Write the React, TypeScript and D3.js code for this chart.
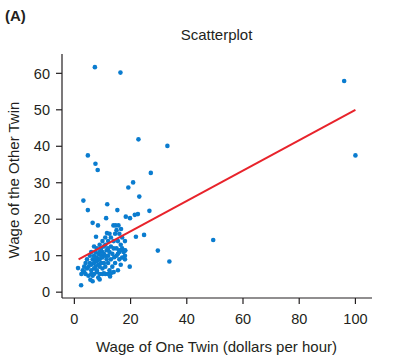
import React from 'react';
import * as d3 from 'd3';

// wage of one twin (x) and of the other twin (y), dollars per hour
const twinOne = [
  7.3, 16.4, 96, 100, 22.8, 33.1, 4.8, 7.5, 8.3, 27.2, 20.9, 19.2, 23.1, 3.2, 11.7, 4.8,
  26.7, 15.3, 22.6, 21.5, 18.3, 19.8, 11.3, 6.5, 8.4, 13.9, 14.7, 15.7, 16.6, 11.6, 24.8,
  21.9, 7.7, 29.7, 33.8, 19.7, 2.4, 5.7, 1.3, 12.7, 17, 18.1, 14.2, 49.4,
  3, 3.5, 4, 4.5, 5, 5, 5.5, 6, 6, 6, 6.5, 6.5, 7, 7, 7, 7, 7.5, 7.5, 7.5, 8, 8, 8, 8, 8,
  8.5, 8.5, 9, 9, 9, 9, 9, 9.5, 9.5, 9.5, 10, 10, 10, 10, 10, 10.5, 10.5, 10.5, 11, 11, 11,
  11, 11, 11.5, 11.5, 12, 12, 12, 12, 12, 12.5, 12.5, 12.5, 13, 13, 13, 13.5, 13.5, 14, 14,
  14, 14.5, 14.5, 15, 15, 15, 15.5, 15.5, 16, 16, 16, 16.5, 16.5, 17, 17.5, 18, 18, 6.5, 4,
  3.5, 2.5, 9, 8.5, 5.5, 6, 7, 4.5, 16, 17, 18, 15.5, 17, 18, 13, 10.5,
];
const twinOther = [
  61.7, 60.2, 57.9, 37.5, 41.9, 40.1, 37.5, 35.2, 33.5, 32.7, 30.1, 28.7, 26.2, 25.1, 24.1,
  22.5, 22.3, 22.5, 21.4, 21.2, 20.7, 20.3, 20.3, 19, 18.3, 18.3, 18.3, 18.3, 17.3, 16.2,
  15.7, 15.2, 15.2, 11.4, 8.4, 7, 1.9, 3.4, 6.6, 4.3, 11.6, 11.4, 9.6, 14.3,
  6, 5.5, 5, 6.5, 4.5, 7, 8, 5, 6, 7.5, 9, 4.5, 5, 6.5, 8, 10, 7, 9, 11, 5.5, 6, 8.5, 9.5, 12,
  7.5, 10.5, 5, 7, 9, 11, 13, 8, 10, 12, 5, 6.5, 9.5, 11, 14, 8, 10.5, 12.5, 5, 7, 10,
  13, 15, 9, 11.5, 5, 8, 10, 12, 14, 6, 11, 16, 9, 12.5, 15, 7, 10.5, 5.5, 12,
  14, 8, 16, 10, 12, 17, 6, 14, 9, 11, 16, 7.5, 13, 15, 11, 9, 14, 3, 8,
  7, 5, 3.5, 4, 10, 11, 12.5, 9, 11.5, 12, 11.5, 10.5, 9.5, 10, 5.2, 5.2,
];
const xTicks = [0, 20, 40, 60, 80, 100];
const yTicks = [0, 10, 20, 30, 40, 50, 60];
// fitted line end points
const fitX = [1.5, 100];
const fitY = [9.0, 50.0];

const App = () => {
  const width = 398;
  const height = 364;
  const left = 62;
  const right = 372;
  const top = 54;
  const bottom = 298;

  const xScale = d3.scaleLinear().domain([-4.4, 105.9]).range([left, right]);
  const yScale = d3.scaleLinear().domain([-1.6, 65.3]).range([bottom, top]);

  const points = twinOne.map((x, i) => ({ x, y: twinOther[i] }));
  const line = d3.line<number>()
    .x(d => xScale(fitX[d]))
    .y(d => yScale(fitY[d]));

  const font = '"Liberation Sans", Arial, Helvetica, sans-serif';
  const ink = '#231f20';

  return (
    <svg width={width} height={height} style={{ position: 'absolute', left: 0, top: 0 }} fontFamily={font}>
      <rect width={width} height={height} fill='#fff' />
      <text x={5} y={21} fontSize={15} fontWeight='bold' fill={ink}>(A)</text>
      <text x={216.5} y={40} fontSize={15} textAnchor='middle' fill={ink}>Scatterplot</text>

      {points.map((d, i) =>
        <circle key={`pt-${i}`} cx={xScale(d.x)} cy={yScale(d.y)} r={2.3} fill='#0a7ccf' />
      )}
      <path d={line([0, 1]) || ''} stroke='#e8232b' strokeWidth={2} fill='none' />

      <line x1={left} x2={left} y1={top} y2={bottom} stroke={ink} strokeWidth={1.2} />
      <line x1={left} x2={right} y1={bottom} y2={bottom} stroke={ink} strokeWidth={1.2} />
      {yTicks.map(t =>
        <g key={`y-${t}`}>
          <line x1={left - 6} x2={left} y1={yScale(t)} y2={yScale(t)} stroke={ink} strokeWidth={1.2} />
          <text x={50} y={yScale(t)} dy='0.36em' textAnchor='end' fontSize={14.5} fill={ink}>{t}</text>
        </g>
      )}
      {xTicks.map(t =>
        <g key={`x-${t}`}>
          <line x1={xScale(t)} x2={xScale(t)} y1={bottom} y2={bottom + 6} stroke={ink} strokeWidth={1.2} />
          <text x={xScale(t)} y={324} textAnchor='middle' fontSize={14.5} fill={ink}>{t}</text>
        </g>
      )}
      <text x={216.5} y={352} textAnchor='middle' fontSize={15} fill={ink}>Wage of One Twin (dollars per hour)</text>
      <text transform='translate(18.5,180) rotate(-90)' textAnchor='middle' fontSize={15} fill={ink}>Wage of the Other Twin</text>
    </svg>
  );
};

export default App;
